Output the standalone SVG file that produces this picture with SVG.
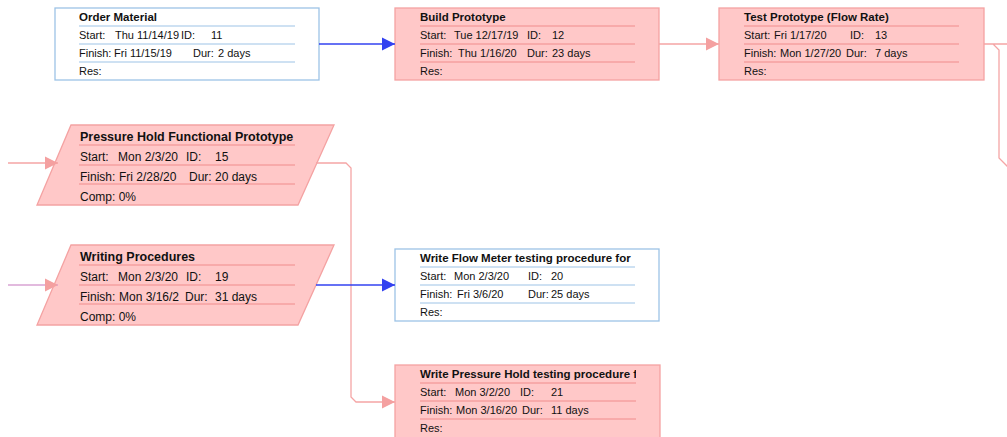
<svg xmlns="http://www.w3.org/2000/svg" width="1007" height="437" viewBox="0 0 1007 437">
<style>
.pk{fill:#FFC8C8;stroke:#F4A2A2;stroke-width:1.3}
.bl{fill:#FFFFFF;stroke:#9DC3E6;stroke-width:1.3}
.sp{stroke:#F08C8C;stroke-width:1}
.sb{stroke:#9DC3E6;stroke-width:1}
text{font-family:"Liberation Sans",Arial,sans-serif;fill:#111111}
.t{font-size:11.5px;font-weight:bold}
.d{font-size:11px}
.tp{font-size:12.5px;font-weight:bold}
.dp{font-size:12px}
.cb{fill:none;stroke:#3342F0;stroke-width:1.3}
.cp{fill:none;stroke:#F5A5A5;stroke-width:1.3}
.cv{fill:none;stroke:#D9A3D3;stroke-width:1.3}
</style>
<defs>
<marker id="ab" markerUnits="userSpaceOnUse" markerWidth="14" markerHeight="14" refX="13" refY="7" orient="auto" viewBox="0 0 14 14"><path d="M0,0.5 L13,7 L0,13.5z" fill="#3342F0"/></marker>
<marker id="ap" markerUnits="userSpaceOnUse" markerWidth="14" markerHeight="14" refX="13" refY="7" orient="auto" viewBox="0 0 14 14"><path d="M0,0.5 L13,7 L0,13.5z" fill="#F4A0A0"/></marker>
<clipPath id="clipA"><rect x="395" y="240" width="241" height="30"/></clipPath>
<clipPath id="clipB"><rect x="395" y="360" width="241" height="30"/></clipPath>
</defs>
<rect x="0" y="0" width="1007" height="437" fill="#FFFFFF"/>

<g id="node-11">
<rect class="bl" x="55" y="8" width="264" height="72"/>
<path class="sb" d="M79,26 H295 M79,44 H295 M79,62 H295"/>
<text class="t" x="79" y="21">Order Material</text>
<text class="d" y="39"><tspan x="79">Start:</tspan><tspan x="115">Thu 11/14/19</tspan><tspan x="181">ID:</tspan><tspan x="211">11</tspan></text>
<text class="d" y="57"><tspan x="79">Finish:</tspan><tspan x="114">Fri 11/15/19</tspan><tspan x="193">Dur:</tspan><tspan x="218">2 days</tspan></text>
<text class="d" x="79" y="75">Res:</text>
</g>

<g id="node-12">
<rect class="pk" x="395" y="8" width="264" height="72"/>
<path class="sp" d="M420,26 H635 M420,44 H635 M420,62 H635"/>
<text class="t" x="420" y="21">Build Prototype</text>
<text class="d" y="39"><tspan x="420">Start:</tspan><tspan x="454">Tue 12/17/19</tspan><tspan x="527">ID:</tspan><tspan x="552">12</tspan></text>
<text class="d" y="57"><tspan x="420">Finish:</tspan><tspan x="458">Thu 1/16/20</tspan><tspan x="527">Dur:</tspan><tspan x="552">23 days</tspan></text>
<text class="d" x="420" y="75">Res:</text>
</g>

<g id="node-13">
<rect class="pk" x="719" y="8" width="265" height="72"/>
<path class="sp" d="M744,26 H959 M744,44 H959 M744,62 H959"/>
<text class="t" x="744" y="21">Test Prototype (Flow Rate)</text>
<text class="d" y="39"><tspan x="744">Start:</tspan><tspan x="774">Fri 1/17/20</tspan><tspan x="850">ID:</tspan><tspan x="875">13</tspan></text>
<text class="d" y="57"><tspan x="744">Finish:</tspan><tspan x="780">Mon 1/27/20</tspan><tspan x="846">Dur:</tspan><tspan x="875">7 days</tspan></text>
<text class="d" x="744" y="75">Res:</text>
</g>

<g id="node-15">
<polygon class="pk" points="71,125 334,125 298,205 37,205"/>
<path class="sp" d="M79,145 H295 M79,165 H295 M79,184 H295"/>
<text class="tp" x="80" y="140.5">Pressure Hold Functional Prototype</text>
<text class="dp" y="160.5"><tspan x="80">Start:</tspan><tspan x="118">Mon 2/3/20</tspan><tspan x="186">ID:</tspan><tspan x="215">15</tspan></text>
<text class="dp" y="180.5"><tspan x="80">Finish:</tspan><tspan x="119">Fri 2/28/20</tspan><tspan x="189">Dur:</tspan><tspan x="215">20 days</tspan></text>
<text class="dp" x="80" y="200.5">Comp: 0%</text>
</g>

<g id="node-19">
<polygon class="pk" points="71,245 334,245 298,325 37,325"/>
<path class="sp" d="M79,265 H295 M79,285 H295 M79,304 H295"/>
<text class="tp" x="80" y="260.5">Writing Procedures</text>
<text class="dp" y="280.5"><tspan x="80">Start:</tspan><tspan x="118">Mon 2/3/20</tspan><tspan x="186">ID:</tspan><tspan x="215">19</tspan></text>
<text class="dp" y="300.5"><tspan x="80">Finish:</tspan><tspan x="119">Mon 3/16/2</tspan><tspan x="185">Dur:</tspan><tspan x="215">31 days</tspan></text>
<text class="dp" x="80" y="320.5">Comp: 0%</text>
</g>

<g id="node-20">
<rect class="bl" x="395" y="249" width="264" height="72"/>
<path class="sb" d="M420,267 H635 M420,285 H635 M420,303 H635"/>
<text class="t" x="420" y="262" clip-path="url(#clipA)">Write Flow Meter testing procedure for</text>
<text class="d" y="280"><tspan x="420">Start:</tspan><tspan x="454">Mon 2/3/20</tspan><tspan x="528">ID:</tspan><tspan x="551">20</tspan></text>
<text class="d" y="298"><tspan x="420">Finish:</tspan><tspan x="457">Fri 3/6/20</tspan><tspan x="528">Dur:</tspan><tspan x="551">25 days</tspan></text>
<text class="d" x="420" y="316">Res:</text>
</g>

<g id="node-21">
<rect class="pk" x="395" y="365" width="265" height="80"/>
<path class="sp" d="M420,383 H636 M420,401 H636 M420,419 H636"/>
<text class="t" x="420" y="378" clip-path="url(#clipB)">Write Pressure Hold testing procedure f</text>
<text class="d" y="396"><tspan x="420">Start:</tspan><tspan x="455">Mon 3/2/20</tspan><tspan x="520">ID:</tspan><tspan x="551">21</tspan></text>
<text class="d" y="414"><tspan x="420">Finish:</tspan><tspan x="456">Mon 3/16/20</tspan><tspan x="522">Dur:</tspan><tspan x="551">11 days</tspan></text>
<text class="d" x="420" y="432">Res:</text>
</g>

<g id="connectors">
<path class="cb" d="M319,44 H395" marker-end="url(#ab)"/>
<path class="cp" d="M659,44 H719" marker-end="url(#ap)"/>
<path class="cp" d="M984,44 H1007 M993,44 L999,50 V158 L1008,167"/>
<path class="cp" d="M8,163 H58" marker-end="url(#ap)"/>
<path class="cp" d="M316,163 H346 L351,168 V397 L356,402 H395" marker-end="url(#ap)"/>
<path class="cv" d="M8,285 H58" marker-end="url(#ap)"/>
<path class="cb" d="M316,285 H395" marker-end="url(#ab)"/>
</g>
</svg>
